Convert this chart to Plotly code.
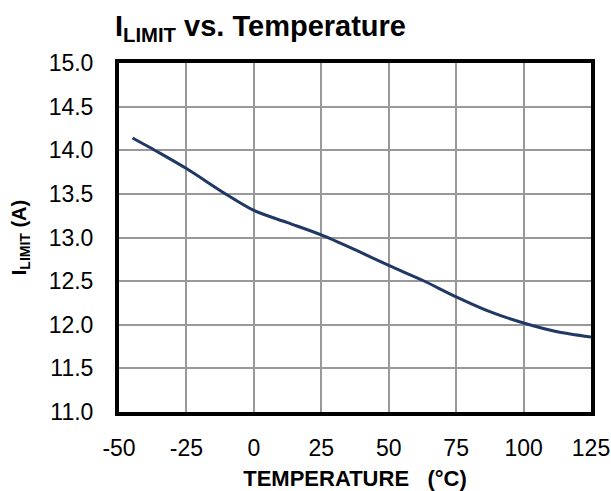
import plotly.graph_objects as go

temperature_c = [-45, -35, -25, -10, 0, 12.5, 25, 37.5, 50, 62.5, 75, 87.5, 100, 112.5, 125]
ilimit_a = [14.14, 13.97, 13.79, 13.49, 13.31, 13.17, 13.03, 12.86, 12.68, 12.51, 12.32, 12.15, 12.02, 11.92, 11.86]

x_ticks = [-50, -25, 0, 25, 50, 75, 100, 125]
y_ticks = [11.0, 11.5, 12.0, 12.5, 13.0, 13.5, 14.0, 14.5, 15.0]

FONT = "Arial, Liberation Sans, sans-serif"

fig = go.Figure()
fig.add_trace(go.Scatter(
    x=temperature_c, y=ilimit_a, mode="lines",
    line=dict(color="#1f3864", width=3, shape="spline", smoothing=0.8),
    showlegend=False,
))

fig.update_layout(
    width=611, height=491,
    margin=dict(l=119, r=20, t=63, b=79, autoexpand=False),
    paper_bgcolor="white", plot_bgcolor="white",
    font=dict(family=FONT, color="black", size=23),
    title=dict(
        text="<b>I<sub>LIMIT</sub> vs. Temperature</b>",
        font=dict(family=FONT, size=29, color="black"),
        xref="container", yref="container",
        x=115/611, xanchor="left", y=1-26/491, yanchor="middle",
    ),
    xaxis=dict(
        range=[-50, 125], tickvals=x_ticks, ticktext=[str(v) for v in x_ticks],
        showgrid=True, gridcolor="#999999", gridwidth=1.5,
        showline=True, linecolor="black", linewidth=4, mirror=True,
        ticks="", zeroline=False, automargin=False, ticklabelstandoff=12,
        tickfont=dict(family=FONT, size=23, color="black"),
        title=dict(text="<b>TEMPERATURE&nbsp;&nbsp;&nbsp;(°C)</b>",
                   font=dict(family=FONT, size=22, color="black"), standoff=16),
    ),
    yaxis=dict(
        range=[11, 15], tickvals=y_ticks, ticktext=[f"{v:.1f}" for v in y_ticks],
        showgrid=True, gridcolor="#999999", gridwidth=1.5,
        showline=True, linecolor="black", linewidth=4, mirror=True,
        ticks="", zeroline=False, automargin=False, ticklabelstandoff=17,
        tickfont=dict(family=FONT, size=23, color="black"),
        title=dict(text="<b>I<sub>LIMIT</sub> (A)</b>",
                   font=dict(family=FONT, size=20, color="black"), standoff=18),
    ),
)

fig.write_html("out.html", config={"displayModeBar": False},
               post_script="document.body.style.margin='0';")
